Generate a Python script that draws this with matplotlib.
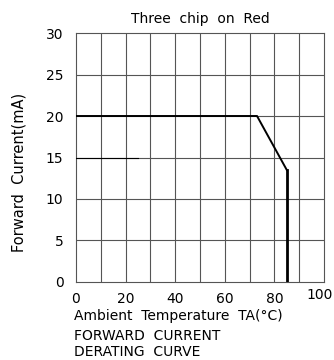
import matplotlib
matplotlib.use("Agg")
import matplotlib.pyplot as plt
import matplotlib.transforms as mtransforms

# derating curve (Ambient temperature in C, forward current in mA)
temp_c = [0, 73, 85, 85]
current_ma = [20, 20, 13.5, 0]

# short reference segment at 15 mA
ref_temp = [0, 25]
ref_current = [15, 15]

x_ticks = [0, 20, 40, 60, 80, 100]
y_ticks = [0, 5, 10, 15, 20, 25, 30]

plt.rcParams["font.family"] = ["DejaVu Sans"]

fig = plt.figure(figsize=(3.34, 3.6), dpi=100)
ax = fig.add_axes([0.2275, 0.2167, 0.7425, 0.6916])

ax.set_xlim(0, 100)
ax.set_ylim(0, 30)

for x in range(10, 100, 10):
    ax.axvline(x, color="#555555", lw=0.8, zorder=1)
for y in range(5, 30, 5):
    ax.axhline(y, color="#555555", lw=0.8, zorder=1)

ax.plot(temp_c[:3], current_ma[:3], color="black", lw=1.4, zorder=3)
ax.plot(temp_c[2:], current_ma[2:], color="black", lw=2.0, zorder=3)
ax.plot(ref_temp, ref_current, color="black", lw=0.8, zorder=3)

for side in ax.spines.values():
    side.set_color("#555555")
    side.set_linewidth(0.8)

ax.set_xticks(x_ticks)
ax.set_yticks(y_ticks)
ax.tick_params(axis="x", length=0, labelsize=10, pad=7)
ax.tick_params(axis="y", length=0, labelsize=10, pad=9)

# the last x label sits a little higher and to the left, as in the source
fig.canvas.draw()
last = ax.get_xticklabels()[-1]
shift = mtransforms.ScaledTranslation(-4 / 100, 4 / 100, fig.dpi_scale_trans)
last.set_transform(last.get_transform() + shift)

ax.set_title("Three  chip  on  Red", fontsize=10, pad=7)
ax.set_ylabel("Forward  Current(mA)", fontsize=10.5)
ax.yaxis.set_label_coords(-0.198, 0.44)

fig.text(0.222, 0.122, "Ambient  Temperature  TA(°C)", fontsize=10, ha="left", va="center")
fig.text(0.222, 0.068, "FORWARD  CURRENT", fontsize=10, ha="left", va="center")
fig.text(0.222, 0.022, "DERATING  CURVE", fontsize=10, ha="left", va="center")

fig.savefig("out.png", dpi=100)
